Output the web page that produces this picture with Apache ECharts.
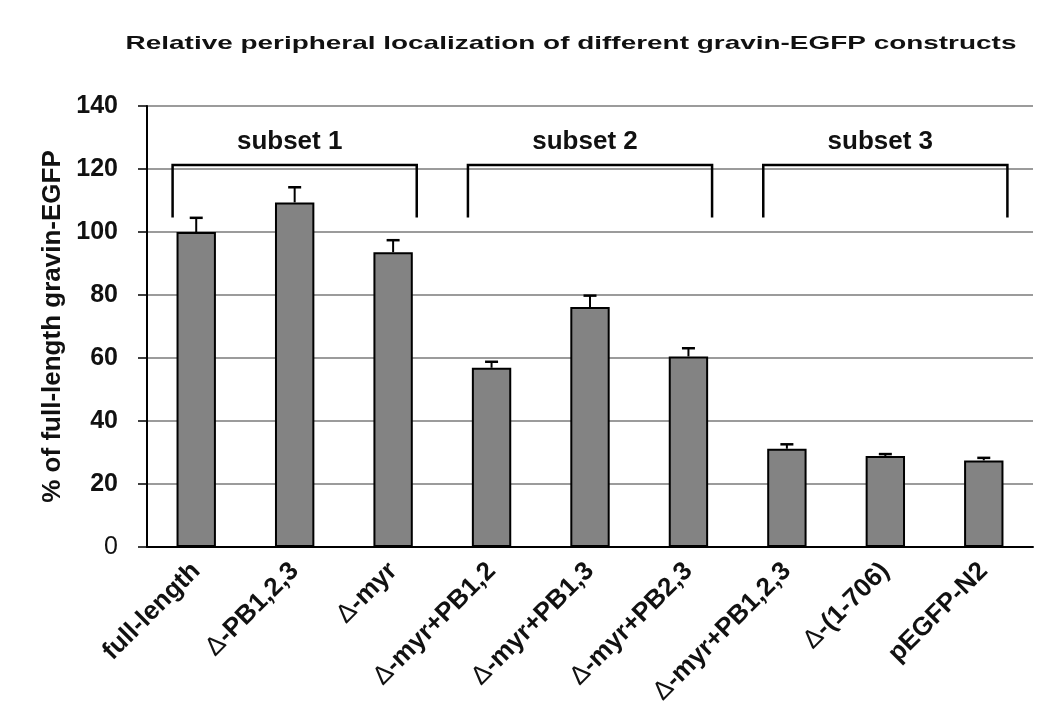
<!DOCTYPE html>
<html>
<head>
<meta charset="utf-8">
<script src="https://cdn.jsdelivr.net/npm/echarts@6/dist/echarts.min.js"></script>
<style>html,body{margin:0;padding:0;background:#fff}#c{width:1050px;height:711px}</style>
</head>
<body>
<div id="c"></div>
<script>
const titleText = 'Relative peripheral localization of different gravin-EGFP constructs';
const yAxisTitle = '% of full-length gravin-EGFP';
const categories = ['full-length', 'Δ-PB1,2,3', 'Δ-myr', 'Δ-myr+PB1,2', 'Δ-myr+PB1,3', 'Δ-myr+PB2,3', 'Δ-myr+PB1,2,3', 'Δ-(1-706)', 'pEGFP-N2'];
const values = [100, 109.4, 93.6, 56.9, 76.2, 60.5, 31.2, 28.9, 27.5];
const errors = [4.5, 4.8, 3.8, 1.9, 3.6, 2.6, 1.4, 0.6, 0.8];
const subsetNames = ['subset 1', 'subset 2', 'subset 3'];
const subsetStart = [0, 3, 6];
const subsetEnd = [2, 5, 8];
const bracketTop = [121.3, 121.3, 121.3];
const bracketBottom = [104.6, 104.6, 104.6];
const subsetLabelY = [128.5, 128.5, 128.5];
const yTicks = [0, 20, 40, 60, 80, 100, 120, 140];

const FONT = '"Liberation Sans", Arial, sans-serif';
const chart = echarts.init(document.getElementById('c'));

const option = {
  backgroundColor: '#fff',
  animation: false,
  graphic: [{
    type: 'text', x: 571, y: 44, scaleX: 1.47, scaleY: 1,
    style: { text: titleText, fontFamily: FONT, fontWeight: 'bold', fontSize: 19, fill: '#111',
             align: 'center', verticalAlign: 'middle' }
  }],
  grid: { left: 147, right: 17, top: 106, bottom: 164, containLabel: false },
  xAxis: {
    type: 'category', data: categories,
    axisLine: { lineStyle: { color: '#000', width: 2 } },
    axisTick: { show: false },
    axisLabel: {
      rotate: 45, margin: 20, interval: 0,
      fontFamily: FONT, fontSize: 26, fontWeight: 'bold', color: '#111',
      formatter: function (v) {
        if (v.charAt(0) === 'Δ') return '{d|Δ}{b|' + v.slice(1) + '}';
        return '{b|' + v + '}';
      },
      rich: {
        d: { fontFamily: FONT, fontSize: 26, fontWeight: 'normal', color: '#111' },
        b: { fontFamily: FONT, fontSize: 26, fontWeight: 'bold', color: '#111' }
      }
    }
  },
  yAxis: {
    type: 'value', min: 0, max: 140, interval: 20,
    name: yAxisTitle, nameLocation: 'middle', nameGap: 77, nameRotate: 90,
    nameTextStyle: { fontFamily: FONT, fontSize: 26, fontWeight: 'bold', color: '#111' },
    axisLine: { show: true, lineStyle: { color: '#000', width: 2 } },
    axisTick: { show: true, length: 9, inside: false, lineStyle: { color: '#000', width: 1.5 } },
    splitLine: { show: true, lineStyle: { color: '#7a7a7a', width: 1.5 } },
    axisLabel: {
      margin: 29, fontFamily: FONT, fontSize: 25, fontWeight: 'bold', color: '#111',
      formatter: function (v) { return v === 0 ? '{n|0}' : '{b|' + v + '}'; },
      rich: {
        n: { fontFamily: FONT, fontSize: 25, fontWeight: 'normal', color: '#111' },
        b: { fontFamily: FONT, fontSize: 25, fontWeight: 'bold', color: '#111' }
      }
    }
  },
  series: [
    {
      type: 'bar', data: values, barWidth: '40%',
      itemStyle: { color: '#838383', borderColor: '#000', borderWidth: 2 }
    },
    {
      type: 'custom',
      data: values.map((v, i) => [i, v, v + errors[i]]),
      z: 5,
      renderItem: function (params, api) {
        const lo = api.coord([api.value(0), api.value(1)]);
        const hi = api.coord([api.value(0), api.value(2)]);
        const cap = 6.5;
        return {
          type: 'group',
          children: [
            { type: 'line', shape: { x1: lo[0], y1: lo[1], x2: hi[0], y2: hi[1] }, style: { stroke: '#000', lineWidth: 2 } },
            { type: 'line', shape: { x1: hi[0] - cap, y1: hi[1], x2: hi[0] + cap, y2: hi[1] }, style: { stroke: '#000', lineWidth: 2.5 } }
          ]
        };
      }
    },
    {
      type: 'custom',
      data: subsetNames.map((n, i) => [subsetStart[i], subsetEnd[i], bracketTop[i], bracketBottom[i], subsetLabelY[i]]),
      z: 6,
      renderItem: function (params, api) {
        const i = params.dataIndex;
        const bw = api.size([1, 0])[0];
        const a = api.coord([api.value(0), api.value(2)]);
        const b = api.coord([api.value(1), api.value(2)]);
        const bot = api.coord([api.value(0), api.value(3)]);
        const lab = api.coord([(api.value(0) + api.value(1)) / 2, api.value(4)]);
        const x1 = a[0] - 0.24 * bw, x2 = b[0] + 0.24 * bw;
        return {
          type: 'group',
          children: [
            { type: 'polyline', shape: { points: [[x1, bot[1]], [x1, a[1]], [x2, a[1]], [x2, bot[1]]] },
              style: { stroke: '#000', lineWidth: 2.5, fill: null } },
            { type: 'text', x: lab[0] - 5, y: lab[1],
              style: { text: subsetNames[i], fontFamily: FONT, fontSize: 26, fontWeight: 'bold', fill: '#111',
                       align: 'center', verticalAlign: 'middle' } }
          ]
        };
      }
    }
  ]
};
chart.setOption(option);
</script>
</body>
</html>
